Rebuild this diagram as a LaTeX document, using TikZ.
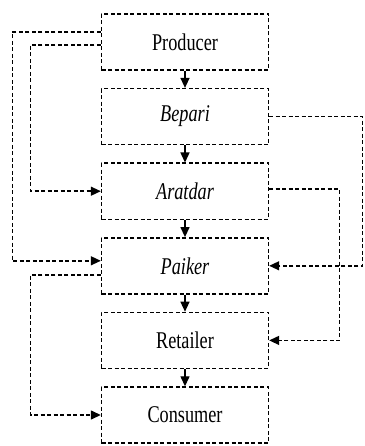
\documentclass[tikz,border=0pt]{standalone}
\usepackage{fontspec}
\newfontfamily\boxfont[FakeStretch=0.76]{Liberation Serif}
\usetikzlibrary{arrows.meta}
\tikzstyle{agent} = [rectangle, minimum width=167pt, minimum height=56pt, text centered, draw=black, line width=1.4pt, dash pattern=on 4pt off 2.5pt, font=\boxfont\fontsize{24}{26}\selectfont]
\tikzstyle{arrow} = [line width=1.3pt,-{Triangle[length=10pt,width=9pt]}]
\tikzstyle{dasharrow} = [line width=1.4pt,dash pattern=on 4pt off 2.5pt,-{Triangle[length=10pt,width=9pt]}]

\begin{document}
\begin{tikzpicture}[node distance=74.6pt]
    \useasboundingbox (-185pt,42pt) rectangle (179pt,-404pt);

    \node (prod) [agent] {Producer};
    \node (bepa) [agent, below of=prod] {\itshape Bepari};
    \node (arat) [agent, below of=bepa] {\itshape Aratdar};
    \node (paik) [agent, below of=arat] {\itshape Paiker};
    \node (reta) [agent, below of=paik] {Retailer};
    \node (cons) [agent, below of=reta] {Consumer};

    \draw [arrow] (prod) -- (bepa);
    \draw [arrow] (bepa) -- (arat);
    \draw [arrow] (arat) -- (paik);
    \draw [arrow] (paik) -- (reta);
    \draw [arrow] (reta) -- (cons);

    \draw [dasharrow] ([yshift=10pt]prod.west) -- ++(-88.5pt,0) |- ([yshift=5pt]paik.west);
    \draw [dasharrow] ([yshift=-3pt]prod.west) -- ++(-70.5pt,0) |- (arat.west);
    \draw [dasharrow] (bepa.east) -- ++(93.5pt,0) |- (paik.east);
    \draw [dasharrow] ([yshift=2pt]arat.east) -- ++(70.5pt,0) |- (reta.east);
    \draw [dasharrow] ([yshift=-9pt]paik.west) -- ++(-70.5pt,0) |- (cons.west);

  \end{tikzpicture}
\end{document}
